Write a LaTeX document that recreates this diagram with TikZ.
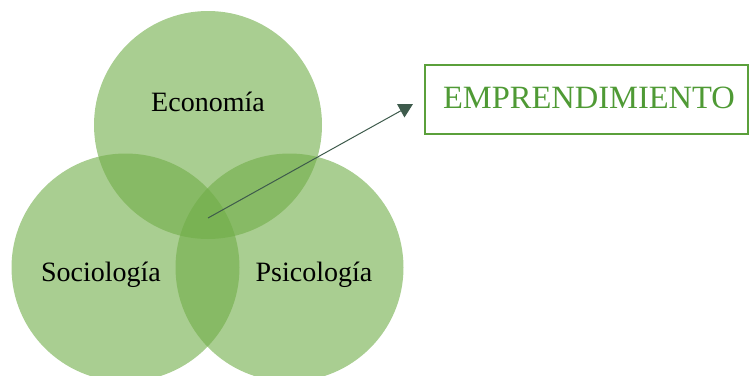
\documentclass[tikz,border=0pt]{standalone}
\usepackage{fontspec}
\setmainfont{Liberation Serif}
\usetikzlibrary{arrows.meta}
\definecolor{vgreen}{HTML}{70AD47}
\definecolor{boxgreen}{HTML}{5BA03B}
\definecolor{txtgreen}{HTML}{4F9A35}
\definecolor{arrowc}{HTML}{3E5B4C}
\tikzset{
  venn/.style={circle, fill=vgreen, fill opacity=0.6, draw=none, minimum size=228pt, inner sep=0pt},
  lbl/.style={font=\fontsize{28}{32}\selectfont, text=black},
  termbox/.style={draw=boxgreen, line width=2pt, minimum width=323pt, minimum height=69pt, inner sep=0pt},
  termtext/.style={font=\fontsize{32.5}{36}\selectfont, anchor=base, inner sep=0pt},
  link/.style={draw=arrowc, line width=1pt, -{Triangle[length=14pt,width=15pt]}}
}
\begin{document}
\begin{tikzpicture}[x=1pt,y=-1pt]
\useasboundingbox (0,0) rectangle (755,375);
\node[venn] (eco) at (208,125) {};
\node[venn] (soc) at (125.5,267.5) {};
\node[venn] (psi) at (289.5,267.5) {};
\node[lbl] (ecol) at (208,102) {Economía};
\node[lbl] (socl) at (101,275) {Sociología};
\node[lbl] (psil) at (314,275) {Psicología};
\node[termbox] (box) at (586.5,99) {};
\node[termtext, text=txtgreen] (emp) at (589,108.5) {EMPRENDIMIENTO};
\coordinate (center) at (208,218);
\coordinate (tip) at (413,104);
\draw[link] (center) -- (tip);
\end{tikzpicture}
\end{document}
